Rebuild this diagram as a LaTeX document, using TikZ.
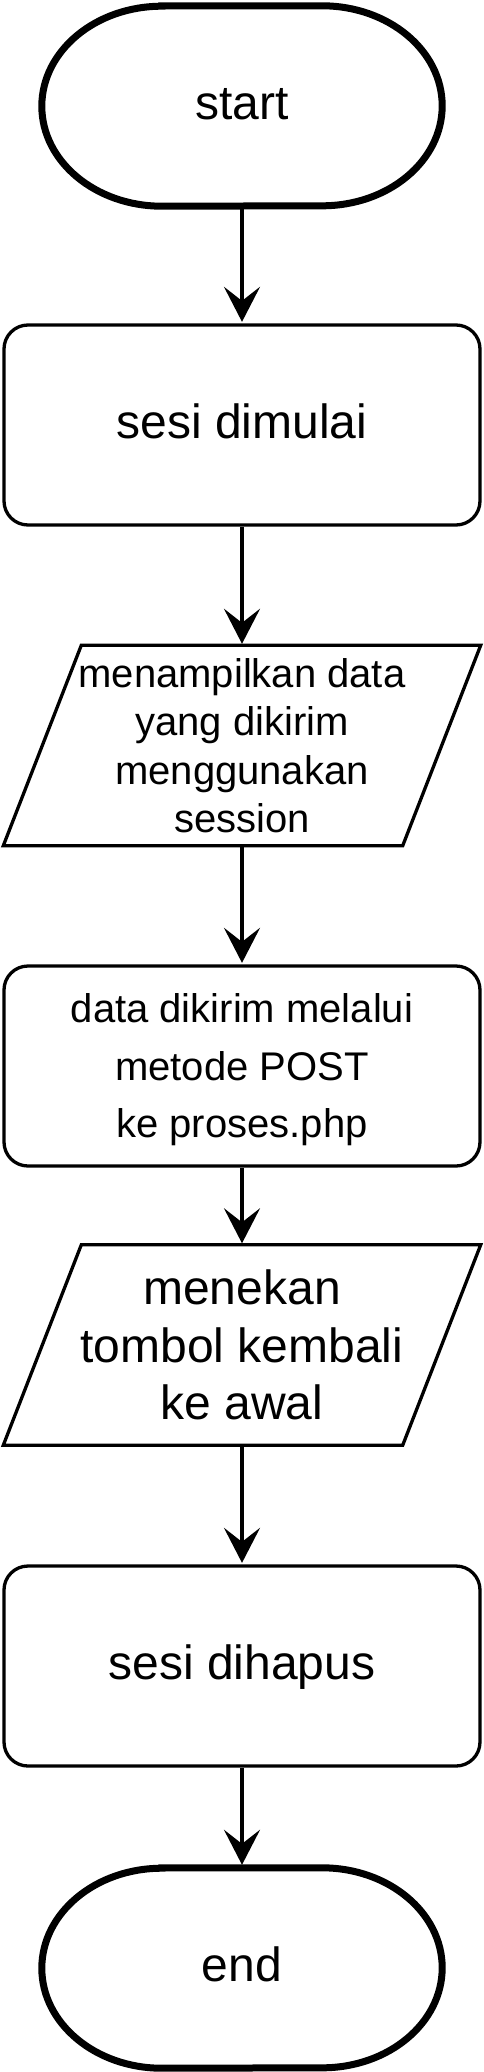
\documentclass[tikz,border=0pt]{standalone}
\usepackage{fontspec}
\setmainfont{Liberation Sans}
\usetikzlibrary{arrows.meta}
\tikzset{
  bigtext/.style={font=\fontsize{48pt}{57.5pt}\selectfont},
  midtext/.style={font=\fontsize{40pt}{48.5pt}\selectfont},
  oneline/.style={text height=37pt, text depth=10pt},
  termbox/.style={minimum width=400pt, minimum height=200pt, inner sep=0pt, draw=none, bigtext, oneline},
  termline/.style={line width=7pt},
  procbox/.style={draw, line width=3.3pt, rounded corners=24pt, minimum width=476pt, minimum height=200pt, inner sep=0pt, align=center},
  iobox/.style={minimum width=477pt, minimum height=200pt, inner sep=0pt, draw=none, align=center},
  ioline/.style={line width=3.3pt, line join=miter},
  flow/.style={line width=3.5pt, -{Stealth[length=35pt,width=36pt,inset=14pt]}, shorten >=1.5pt}
}
\begin{document}
\begin{tikzpicture}[x=1pt,y=1pt]
\useasboundingbox (0,0) rectangle (484,-2072);
% start
\node[termbox] (start) at (242,-106) {start};
\draw[termline] ([xshift=120pt]start.north west) -- ([xshift=-120pt]start.north east)
  arc[start angle=90,end angle=-90,x radius=120pt,y radius=100pt]
  -- ([xshift=120pt]start.south west)
  arc[start angle=270,end angle=90,x radius=120pt,y radius=100pt] -- cycle;
% sesi dimulai
\node[procbox, bigtext, oneline] (b1) at (242,-425) {sesi dimulai};
% parallelogram 1
\node[iobox, midtext] (p1) at (242,-745.5) {menampilkan data\\yang dikirim\\menggunakan\\session};
\draw[ioline] ([xshift=78pt]p1.north west) -- (p1.north east) -- ([xshift=-78pt]p1.south east) -- (p1.south west) -- cycle;
% data dikirim
\node[procbox, font=\fontsize{40pt}{57.5pt}\selectfont] (b2) at (242,-1066) {};
\node[align=center, inner sep=0pt, font=\fontsize{40pt}{57.5pt}\selectfont] (b2t) at ([yshift=-4pt]b2.center) {data dikirim melalui\\metode POST\\ke proses.php};
% parallelogram 2
\node[iobox, bigtext] (p2) at (242,-1345) {menekan\\tombol kembali\\ke awal};
\draw[ioline] ([xshift=78pt]p2.north west) -- (p2.north east) -- ([xshift=-78pt]p2.south east) -- (p2.south west) -- cycle;
% sesi dihapus
\node[procbox, bigtext, oneline] (b3) at (242,-1666) {sesi dihapus};
% end
\node[termbox] (end) at (242,-1968) {end};
\draw[termline] ([xshift=120pt]end.north west) -- ([xshift=-120pt]end.north east)
  arc[start angle=90,end angle=-90,x radius=120pt,y radius=100pt]
  -- ([xshift=120pt]end.south west)
  arc[start angle=270,end angle=90,x radius=120pt,y radius=100pt] -- cycle;
% connectors
\draw[flow] ([yshift=-3pt]start.south) -- (b1.north);
\draw[flow] (b1.south) -- (p1.north);
\draw[flow] (p1.south) -- (b2.north);
\draw[flow] (b2.south) -- (p2.north);
\draw[flow] (p2.south) -- (b3.north);
\draw[flow, shorten >=3pt] (b3.south) -- (end.north);
\end{tikzpicture}
\end{document}
